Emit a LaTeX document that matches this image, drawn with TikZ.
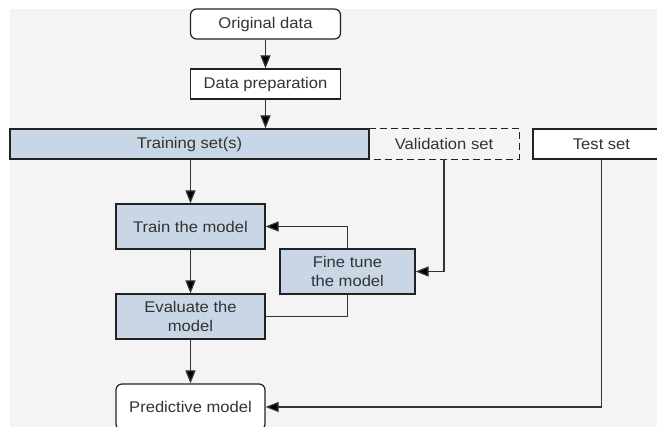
\documentclass[tikz,border=0pt]{standalone}
\usepackage{fontspec}
\setmainfont{Liberation Sans}[FakeStretch=1.07]
\usetikzlibrary{arrows.meta}
\definecolor{bg}{HTML}{F4F4F4}
\definecolor{boxblue}{HTML}{C9D6E5}
\definecolor{ink}{HTML}{333333}
\definecolor{edge}{HTML}{222222}
\begin{document}
\begin{tikzpicture}[x=1pt,y=-1pt,
  every node/.style={font=\fontsize{15.5}{19.5}\selectfont, text=ink, inner sep=0pt, align=center},
  box/.style={draw=edge, line width=1.2pt, fill=white},
  bluebox/.style={box, fill=boxblue},
  rbox/.style={box, rounded corners=6pt},
  conn/.style={draw=ink, line width=1.2pt},
  arr/.style={conn, -{Triangle[length=13pt,width=10pt,fill=black]}}]
\useasboundingbox (0,0) rectangle (657,427);
\fill[white] (0,0) rectangle (657,427);
\fill[bg] (10,9) rectangle (657,427);
\clip (0,0) rectangle (657,427);
\node[rbox, minimum width=150pt, minimum height=30pt] (orig) at (265.5,24) {Original data};
\node[box, minimum width=150pt, minimum height=30pt] (prep) at (265.5,84) {Data preparation};
\node[bluebox, minimum width=359pt, minimum height=30pt] (training) at (189.5,144) {Training set(s)};
\node[minimum width=150pt, minimum height=30pt] (val) at (444,144) {Validation set};
\draw[conn, draw=edge, dash pattern=on 7pt off 4pt] (val.north west) -- (val.north east) -- (val.south east) -- (val.south west);
\node[box, minimum width=137pt, minimum height=30pt] (test) at (601.5,144) {Test set};
\node[bluebox, minimum width=149pt, minimum height=45pt] (train) at (190.5,226.5) {Train the model};
\node[bluebox, minimum width=135pt, minimum height=45pt] (fine) at (347.5,271.5) {Fine tune\\the model};
\node[bluebox, minimum width=149pt, minimum height=45pt] (eval) at (190.5,316.5) {Evaluate the\\model};
\node[rbox, minimum width=149pt, minimum height=46pt] (pred) at (190.5,407) {Predictive model};
\draw[arr] (orig) -- (prep);
\draw[arr] (prep.south) -- (prep.south |- training.north);
\draw[arr] (train.north |- training.south) -- (train.north);
\draw[arr] (train) -- (eval);
\draw[arr] (eval) -- (pred);
\draw[arr] (fine.north) |- (train.east);
\draw[conn] (eval.east) -| (fine.south);
\draw[arr] (val.south) |- (fine.east);
\draw[arr] (test.south) |- (pred.east);
\end{tikzpicture}
\end{document}
